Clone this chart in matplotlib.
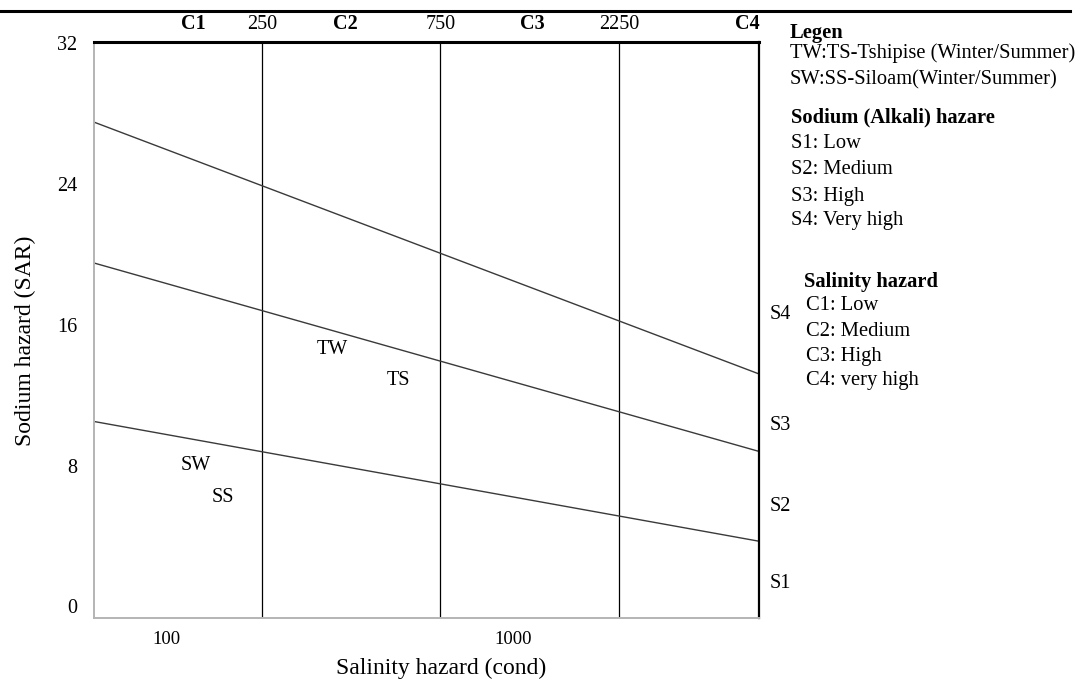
import matplotlib
matplotlib.use('Agg')
import matplotlib.pyplot as plot
from matplotlib.lines import Line2D
import numpy as np

# conductivity range of the diagram (log axis) and salinity class limits
condRange = [89, 5325]
classBounds = [250, 750, 2250]
boundLabels = ['250', '750', '2250']
classNames = ['C1', 'C2', 'C3', 'C4']
classNamePos = [164, 417, 1317, 4948]

# SAR boundary lines, value at left and right end of the cond axis
sarS1S2 = [10.5, 3.7]
sarS2S3 = [19.5, 8.8]
sarS3S4 = [27.5, 13.2]

sodiumNames = ['S1', 'S2', 'S3', 'S4']
sodiumNamePos = [1.3, 5.65, 10.25, 16.6]

# sample labels (winter / summer)
sampleNames = ['TW', 'TS', 'SW', 'SS']
sampleCond = [385, 581, 166, 197]
sampleSAR = [14.6, 12.8, 8.0, 6.2]

sarTicks = [0, 8, 16, 24, 32]
condTickPos = [139, 1175]
condTickLabels = ['100', '1000']

legendLines = [
    ('Legen', True, 790, 33),
    ('TW:TS-Tshipise (Winter/Summer)', False, 790, 53),
    ('SW:SS-Siloam(Winter/Summer)', False, 790, 80),
    ('Sodium (Alkali) hazare', True, 791, 117),
    ('S1: Low', False, 791, 144),
    ('S2: Medium', False, 791, 170),
    ('S3: High', False, 791, 196),
    ('S4: Very high', False, 791, 221),
    ('Salinity hazard', True, 804, 282),
    ('C1: Low', False, 806, 306),
    ('C2: Medium', False, 806, 331),
    ('C3: High', False, 806, 356),
    ('C4: very high', False, 806, 381),
]


def plotDiagram():
    plot.rcParams['font.family'] = ['Liberation Serif', 'DejaVu Serif']
    W, H = 1087, 680
    fig = plot.figure(figsize=(W / 100, H / 100), dpi=100)
    ax = fig.add_axes([94 / W, 1 - 618 / H, 665 / W, 576 / H])

    ax.set_xscale('log')
    ax.set_xlim(condRange)
    ax.set_ylim(-0.66, 32.05)

    for xb in classBounds:
        ax.axvline(xb, color='black', lw=0.9)

    for sar in [sarS1S2, sarS2S3, sarS3S4]:
        ax.plot(condRange, sar, color='#3a3a3a', lw=1.0)

    for name, c, s in zip(sampleNames, sampleCond, sampleSAR):
        ax.text(c, s, name, fontsize=14.5, ha='center', va='center')

    ax.set_yticks(sarTicks)
    ax.set_yticklabels([str(t) for t in sarTicks])
    ax.set_xticks(condTickPos)
    ax.set_xticklabels(condTickLabels)
    ax.xaxis.set_minor_locator(matplotlib.ticker.NullLocator())
    ax.tick_params(axis='y', length=0, pad=12, labelsize=14.5)
    ax.tick_params(axis='x', length=0, pad=9, labelsize=13.5)

    ax.spines['top'].set_linewidth(2.2)
    ax.spines['right'].set_linewidth(1.6)
    ax.spines['left'].set_color('#b4b4b4')
    ax.spines['bottom'].set_color('#b4b4b4')
    ax.spines['left'].set_linewidth(1.4)
    ax.spines['bottom'].set_linewidth(1.4)

    trans = ax.get_xaxis_transform()
    for lab, xb in zip(boundLabels, classBounds):
        ax.text(xb, 1.031, lab, transform=trans, fontsize=14.5,
                ha='center', va='center')
    for lab, xc in zip(classNames, classNamePos):
        ax.text(xc, 1.031, lab, transform=trans, fontsize=14.5,
                fontweight='bold', ha='center', va='center')

    ytrans = ax.get_yaxis_transform()
    for lab, yv in zip(sodiumNames, sodiumNamePos):
        ax.text(1.032, yv, lab, transform=ytrans, fontsize=14.5,
                ha='center', va='center')

    fig.text(25 / W, 1 - 341 / H, 'Sodium hazard (SAR)', rotation=90,
             fontsize=17, ha='center', va='center')
    fig.text(441 / W, 1 - 668 / H, 'Salinity hazard (cond)',
             fontsize=17, ha='center', va='center')

    for txt, bold, px, py in legendLines:
        fig.text(px / W, 1 - py / H, txt, fontsize=14.8,
                 fontweight='bold' if bold else 'normal',
                 ha='left', va='center')

    fig.add_artist(Line2D([0, 1070 / W], [1 - 11 / H, 1 - 11 / H],
                          color='black', lw=2.2))

    plot.savefig('out.png', dpi=100)


def main():
    plotDiagram()


if __name__ == "__main__":
    main()
